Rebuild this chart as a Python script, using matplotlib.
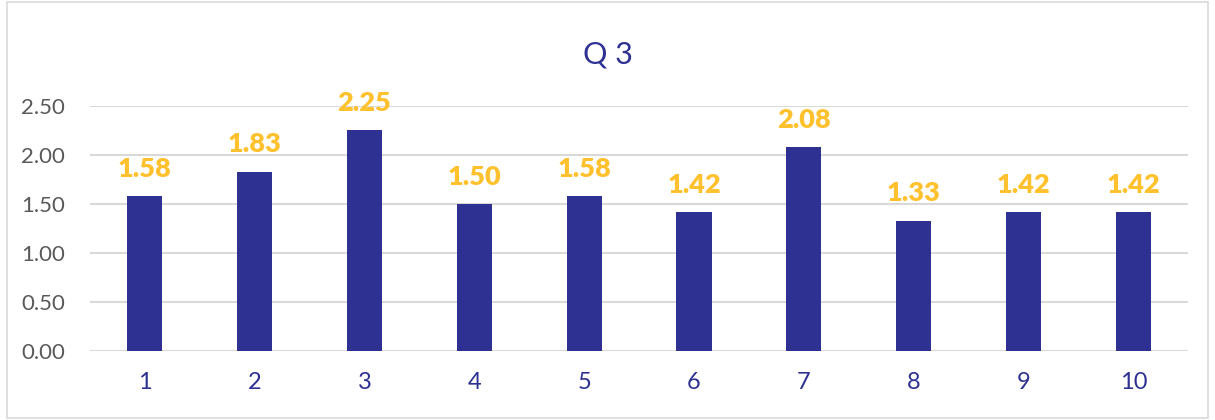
import matplotlib.pyplot as plt
from matplotlib.patches import Rectangle

plt.rcParams['font.family'] = ['Lato', 'DejaVu Sans']

categories = ['1', '2', '3', '4', '5', '6', '7', '8', '9', '10']
values = [1.58, 1.83, 2.25, 1.50, 1.58, 1.42, 2.08, 1.33, 1.42, 1.42]
yticks = [0.0, 0.5, 1.0, 1.5, 2.0, 2.5]

bar_color = '#2E3192'
label_color = '#FFC12E'

fig = plt.figure(figsize=(12.15, 4.2), dpi=100)
ax = fig.add_axes([0.074, 0.164, 0.904, 0.584])

x = list(range(len(categories)))
bars = ax.bar(x, values, width=0.32, color=bar_color, zorder=3)

for xi, v in zip(x, values):
    ax.annotate(f'{v:.2f}', (xi, v), xytext=(0, 11), textcoords='offset points',
                ha='center', va='bottom', color=label_color, fontsize=19.5,
                fontweight='heavy')

ax.set_xlim(-0.5, len(categories) - 0.5)
ax.set_ylim(0, 2.5)
ax.set_yticks(yticks)
ax.set_yticklabels([f'{t:.2f}' for t in yticks])
ax.set_xticks(x)
ax.set_xticklabels(categories)
ax.tick_params(axis='y', colors='#595959', labelsize=16, length=0, pad=18)
ax.tick_params(axis='x', colors=bar_color, labelsize=17, length=0, pad=15)

ax.grid(axis='y', color='#D9D9D9', linewidth=1.5, zorder=0)
for s in ax.spines.values():
    s.set_visible(False)

fig.text(0.5, 0.87, 'Q 3', ha='center', va='center', color=bar_color, fontsize=22)

fig.patches.append(Rectangle((0.006, 0.005), 0.988, 0.99, transform=fig.transFigure,
                             fill=False, edgecolor='#D9D9D9', linewidth=1.2))

fig.savefig('out.png', dpi=100)
